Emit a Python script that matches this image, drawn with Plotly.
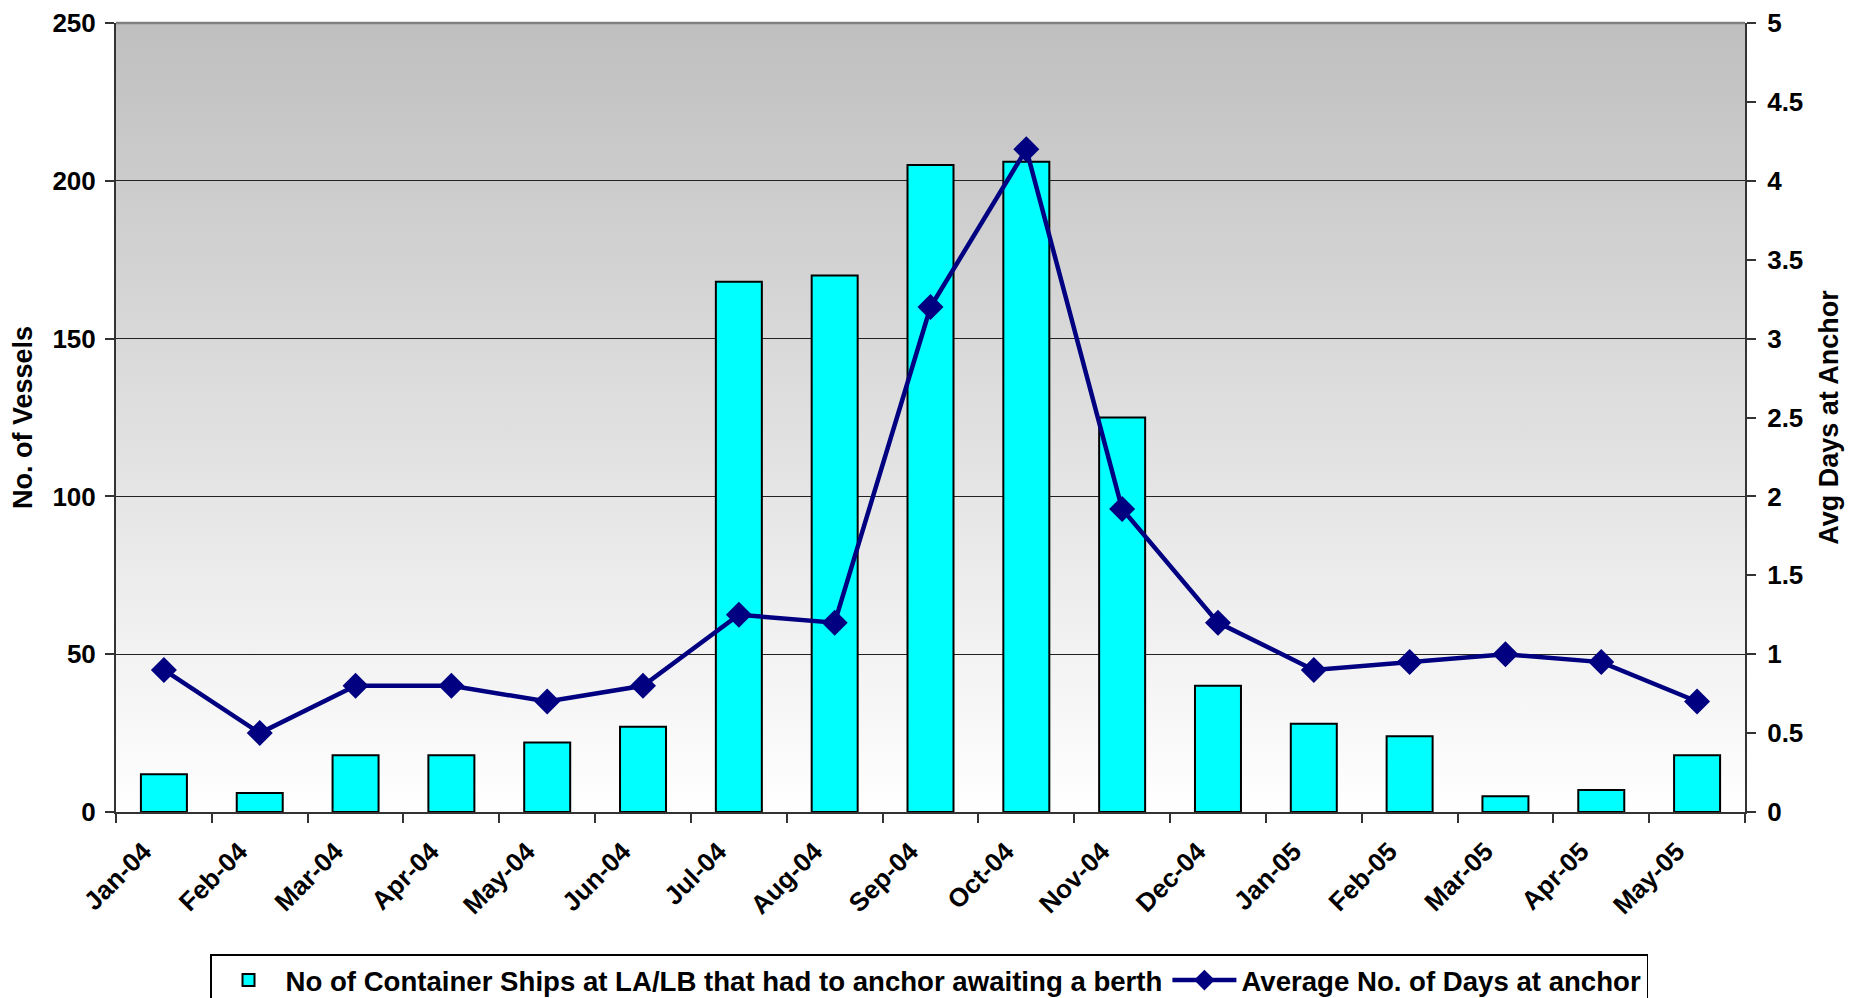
import base64
import plotly.graph_objects as go

months = ["Jan-04", "Feb-04", "Mar-04", "Apr-04", "May-04", "Jun-04", "Jul-04", "Aug-04",
          "Sep-04", "Oct-04", "Nov-04", "Dec-04", "Jan-05", "Feb-05", "Mar-05", "Apr-05", "May-05"]
ships_anchored = [12, 6, 18, 18, 22, 27, 168, 170, 205, 206, 125, 40, 28, 24, 5, 7, 18]
avg_days = [0.9, 0.5, 0.8, 0.8, 0.7, 0.8, 1.25, 1.2, 3.2, 4.2, 1.92, 1.2, 0.9, 0.95, 1.0, 0.95, 0.7]

bar_name = "No of Container Ships at LA/LB that had to anchor awaiting a berth"
line_name = "Average No. of Days at anchor"

FONT = "Liberation Sans, Arial, sans-serif"

svg = ('<svg xmlns="http://www.w3.org/2000/svg" width="100" height="100" preserveAspectRatio="none">'
       '<defs><linearGradient id="g" x1="0" y1="0" x2="0" y2="1">'
       '<stop offset="0" stop-color="#bfbfbf"/><stop offset="1" stop-color="#ffffff"/>'
       '</linearGradient></defs><rect width="100" height="100" fill="url(#g)"/></svg>')
svg_uri = "data:image/svg+xml;base64," + base64.b64encode(svg.encode()).decode()

fig = go.Figure()
fig.add_trace(go.Bar(
    x=months, y=ships_anchored, name=bar_name,
    marker=dict(color="#00ffff", line=dict(color="#000000", width=2)),
    yaxis="y",
))
fig.add_trace(go.Scatter(
    x=months, y=avg_days, name=line_name, mode="lines+markers",
    line=dict(color="#000080", width=4.5),
    marker=dict(symbol="diamond", size=20, color="#000080"),
    yaxis="y2",
))

fig.update_layout(
    width=1858, height=998,
    margin=dict(l=108, r=121, t=15, b=194, autoexpand=False),
    paper_bgcolor="white",
    plot_bgcolor="rgba(0,0,0,0)",
    font=dict(family=FONT, size=26, color="black"),
    bargap=0.52,
    showlegend=True,
    legend=dict(
        orientation="h", xref="container", yref="container",
        x=0.4957, xanchor="center", y=0.052, yanchor="top",
        bgcolor="white", bordercolor="black", borderwidth=1.5,
        font=dict(family=FONT, size=27.6, color="black", weight="bold"),
        traceorder="normal", itemwidth=64,
    ),
    images=[dict(source=svg_uri, xref="paper", yref="paper", x=0, y=1, sizex=1, sizey=1,
                 sizing="stretch", layer="below", xanchor="left", yanchor="top")],
    xaxis=dict(
        type="category", range=[-0.5, len(months) - 0.5], automargin=False,
        tickangle=-45, tickson="boundaries", ticklabelstandoff=12, ticklabelshift=-20,
        ticks="outside", ticklen=9, tickwidth=1.5, tickcolor="#333333",
        showline=True, linecolor="#333333", linewidth=2,
        showgrid=False, zeroline=False,
        tickfont=dict(family=FONT, size=26, color="black", weight="bold"),
    ),
    yaxis=dict(
        range=[0, 250], dtick=50, tick0=0, automargin=False, ticklabelstandoff=4,
        ticklabeloverflow="allow",
        ticks="outside", ticklen=9, tickwidth=1.5, tickcolor="#333333",
        showline=True, linecolor="#333333", linewidth=2,
        showgrid=True, gridcolor="#222222", gridwidth=1.2, zeroline=False,
        tickfont=dict(family=FONT, size=26, color="black", weight="bold"),
        title=dict(text="No. of Vessels", standoff=17,
                   font=dict(family=FONT, size=27, color="black", weight="bold")),
    ),
    yaxis2=dict(
        range=[0, 5], dtick=0.5, tick0=0, overlaying="y", side="right", automargin=False,
        ticklabelstandoff=6, ticklabeloverflow="allow",
        ticks="outside", ticklen=9, tickwidth=1.5, tickcolor="#333333",
        showline=True, linecolor="#333333", linewidth=2,
        showgrid=False, zeroline=False,
        tickfont=dict(family=FONT, size=26, color="black", weight="bold"),
        title=dict(text="Avg Days at Anchor", standoff=17,
                   font=dict(family=FONT, size=27, color="black", weight="bold")),
    ),
    shapes=[dict(type="line", xref="paper", yref="paper", x0=0, x1=1, y0=1, y1=1,
                 line=dict(color="#808080", width=2.5), layer="above")],
)

fig.write_html("out.html")
